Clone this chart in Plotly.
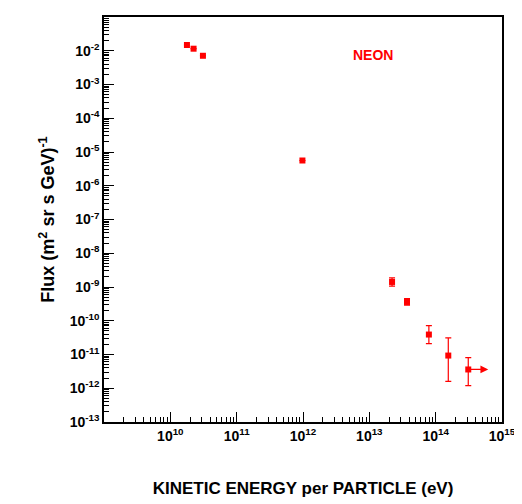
import math
import plotly.graph_objects as go

energy = [1.78e10, 2.24e10, 3.1e10, 9.8e11, 2.2e13, 3.7e13, 7.9e13, 1.55e14, 3.1e14]
flux = [1.48e-2, 1.15e-2, 7.1e-3, 5.6e-6, 1.41e-9, 3.6e-10, 3.9e-11, 9.3e-12, 3.6e-12]
err_up = [0, 0, 0, 0, 0.45e-9, 0.9e-10, 3.3e-11, 2.2e-11, 4.5e-12]
err_dn = [0, 0, 0, 0, 0.35e-9, 0.7e-10, 1.8e-11, 7.7e-12, 2.4e-12]
arrow_end = 6.2e14

xexp = list(range(10, 16))
yexp = list(range(-13, -1))
xt = [10.0**k for k in xexp]
yt = [10.0**k for k in yexp]
xminor = [m * 10.0**k for k in range(9, 15) for m in range(2, 10)]
yminor = [m * 10.0**k for k in range(-13, -1) for m in range(2, 10)]

fig = go.Figure()
fig.add_trace(go.Scatter(x=energy, y=flux, mode="markers",
    marker=dict(symbol="square", size=6, color="#ff0000"),
    error_y=dict(type="data", symmetric=False, array=err_up, arrayminus=err_dn,
                 color="#ff0000", thickness=1.2, width=3)))
fig.add_annotation(x=math.log10(arrow_end), y=math.log10(flux[-1]),
    ax=math.log10(energy[-1]), ay=math.log10(flux[-1]),
    xref="x", yref="y", axref="x", ayref="y", showarrow=True,
    arrowhead=2, arrowsize=1.3, arrowwidth=1.2, arrowcolor="#ff0000", text="")
fig.add_annotation(x=0.73, y=0.93, xref="paper", yref="paper", text="<b>NEON</b>",
    showarrow=False, font=dict(color="#ff0000", size=14, family="Liberation Sans"))

axfont = dict(family="Liberation Sans", size=14, color="black")
common = dict(type="log", ticks="inside", ticklen=10, tickwidth=1, tickcolor="black",
    showgrid=False, mirror=True, showline=True, linecolor="black", linewidth=1.5,
    tickfont=axfont)
fig.update_xaxes(range=[9, 15], tickvals=xt,
    ticktext=[f"<b>10<sup>{k}</sup></b>" for k in xexp],
    minor=dict(tickvals=xminor, ticks="inside", ticklen=5, tickcolor="black", showgrid=False),
    title=dict(text="<b>KINETIC ENERGY per PARTICLE (eV)</b>", standoff=40,
               font=dict(family="Liberation Sans", size=17, color="black")), **common)
fig.update_yaxes(range=[-13, -1], tickvals=yt,
    ticktext=[f"<b>10<sup>{k}</sup></b>" for k in yexp],
    minor=dict(tickvals=yminor, ticks="inside", ticklen=5, tickcolor="black", showgrid=False),
    title=dict(text="<b>Flux (m<sup>2</sup> sr s GeV)<sup>-1</sup></b>", standoff=10,
               font=dict(family="Liberation Sans", size=18, color="black")), **common)
fig.update_layout(width=522, height=504, plot_bgcolor="white", paper_bgcolor="white",
    showlegend=False, margin=dict(l=96, r=28, t=7, b=90))
fig.write_html("out.html")
